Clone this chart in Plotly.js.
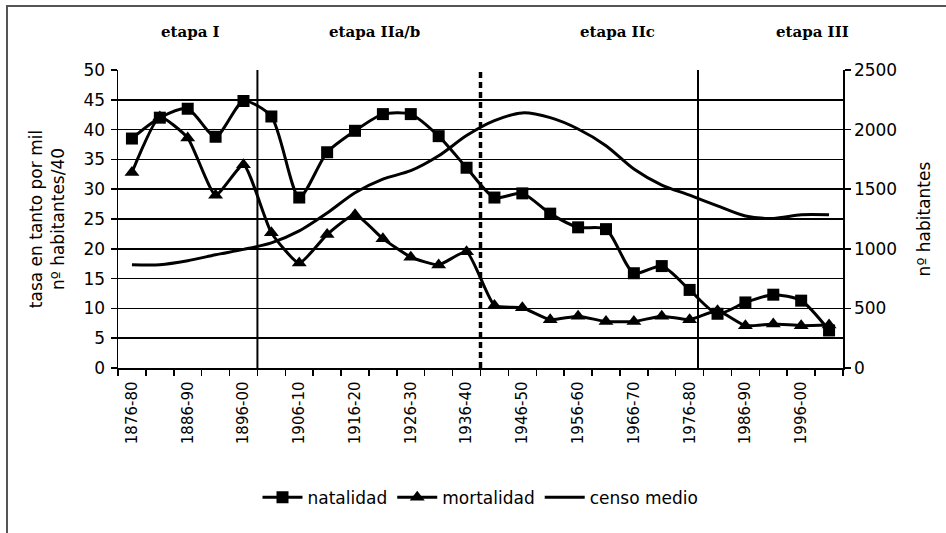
<!DOCTYPE html>
<html>
<head>
<meta charset="utf-8">
<script src="https://cdn.plot.ly/plotly-3.0.1.min.js"></script>
<style>
  html, body { margin: 0; padding: 0; background: #fff; }
  #wrap { position: relative; width: 946px; height: 533px; }
  #chart { position: absolute; left: 0; top: 0; width: 946px; height: 533px; }
  #frame { position: absolute; left: 6px; top: 5px; width: 960px; height: 560px;
           border-left: 2px solid #555; border-top: 2px solid #555; pointer-events: none; }
</style>
</head>
<body>
<div id="wrap">
  <div id="chart"></div>
  <div id="frame"></div>
</div>
<script>
const categories = ['1876-80','1881-85','1886-90','1891-95','1896-00','1901-05','1906-10','1911-15','1916-20','1921-25','1926-30','1931-35','1936-40','1941-45','1946-50','1951-55','1956-60','1961-65','1966-70','1971-75','1976-80','1981-85','1986-90','1991-95','1996-00','2001-05'];
const natalidad = [38.5, 42.0, 43.5, 38.8, 44.8, 42.2, 28.6, 36.2, 39.8, 42.6, 42.6, 38.9, 33.6, 28.6, 29.3, 25.9, 23.6, 23.3, 15.9, 17.1, 13.1, 9.1, 11.0, 12.3, 11.3, 6.3];
const mortalidad = [32.8, 42.1, 38.6, 29.0, 34.1, 22.7, 17.6, 22.4, 25.7, 21.7, 18.6, 17.3, 19.5, 10.5, 10.1, 8.1, 8.7, 7.8, 7.8, 8.7, 8.1, 9.6, 7.1, 7.4, 7.1, 7.2];
const censoMedio = [867, 867, 900, 950, 995, 1050, 1150, 1300, 1470, 1585, 1655, 1780, 1950, 2075, 2140, 2100, 2005, 1865, 1670, 1535, 1450, 1360, 1275, 1255, 1285, 1285];
const tickLabels = ['1876-80','1886-90','1896-00','1906-10','1916-20','1926-30','1936-40','1946-50','1956-60','1966-70','1976-80','1986-90','1996-00'];
const etapaLabels = ['etapa I', 'etapa IIa/b', 'etapa IIc', 'etapa III'];
const etapaPos = [2.1, 8.7, 17.4, 24.4];
const stageBounds = [4.5, 12.5, 20.3];

const xs = categories.map((c, i) => i);
const tickvals = tickLabels.map(l => categories.indexOf(l));

const baseFont = {family: 'DejaVu Sans, Verdana, sans-serif', size: 16, color: '#000'};

const traces = [
  {x: xs, y: natalidad, name: 'natalidad', type: 'scatter', mode: 'lines+markers',
   line: {color: '#000', width: 3, shape: 'spline', smoothing: 0.7},
   marker: {symbol: 'square', size: 12, color: '#000'}},
  {x: xs, y: mortalidad, name: 'mortalidad', type: 'scatter', mode: 'lines+markers',
   line: {color: '#000', width: 3, shape: 'spline', smoothing: 0.5},
   marker: {symbol: 'triangle-up', size: 13, color: '#000'}},
  {x: xs, y: censoMedio, name: 'censo medio', type: 'scatter', mode: 'lines', yaxis: 'y2',
   line: {color: '#000', width: 3, shape: 'spline', smoothing: 0.8}}
];

const shapes = stageBounds.map((b, i) => ({
  type: 'line', xref: 'x', yref: 'paper', x0: b, x1: b, y0: 0, y1: 1,
  line: {color: '#000', width: i === 1 ? 3.5 : 2, dash: i === 1 ? '6px,4px' : 'solid'}
}));

const annotations = etapaLabels.map((t, i) => ({
  text: t, xref: 'x', yref: 'paper', x: etapaPos[i], y: 1.128, showarrow: false,
  xanchor: 'center', yanchor: 'middle',
  font: {family: 'DejaVu Serif, serif', size: 15, color: '#000', weight: 'bold'}
}));

const layout = {
  width: 946, height: 533,
  margin: {l: 118, r: 103, t: 70, b: 165},
  paper_bgcolor: 'rgba(0,0,0,0)', plot_bgcolor: 'rgba(0,0,0,0)',
  font: baseFont,
  showlegend: true,
  legend: {orientation: 'h', x: 0.5, xanchor: 'center', y: -0.435, yanchor: 'middle',
           font: {family: 'DejaVu Sans, Verdana, sans-serif', size: 17, color: '#000'},
           itemwidth: 40, tracegroupgap: 0},
  xaxis: {range: [-0.5, 25.5], tickmode: 'array', tickvals: tickvals, ticktext: tickLabels,
          tickangle: -90, ticks: '', ticklabelstandoff: 6,
          minor: {ticks: 'outside', ticklen: 6, tickwidth: 1.5, tickcolor: '#000', tick0: 0.5, dtick: 1, showgrid: false},
          showline: true, linecolor: '#000', linewidth: 1.5, showgrid: false, zeroline: false,
          tickfont: {size: 15}, fixedrange: true},
  yaxis: {range: [0, 50], dtick: 5, tick0: 0, ticks: 'outside', ticklen: 6, tickwidth: 1.5, tickcolor: '#000',
          showline: true, linecolor: '#000', linewidth: 1.5, showgrid: true, gridcolor: '#000', gridwidth: 1.5,
          zeroline: false, tickfont: {size: 17}, ticklabelstandoff: 2,
          title: {text: 'tasa en tanto por mil<br>nº habitantes/40', font: {size: 17}, standoff: 14}},
  yaxis2: {range: [0, 2500], dtick: 500, tick0: 0, overlaying: 'y', side: 'right', ticks: 'outside', ticklen: 6,
           tickwidth: 1.5, tickcolor: '#000', showline: true, linecolor: '#000', linewidth: 1.5,
           showgrid: false, zeroline: false, tickfont: {size: 17},
           title: {text: 'nº habitantes', font: {size: 17}, standoff: 22}},
  shapes: shapes,
  annotations: annotations
};

Plotly.newPlot('chart', traces, layout, {displayModeBar: false, staticPlot: true});
</script>
</body>
</html>
